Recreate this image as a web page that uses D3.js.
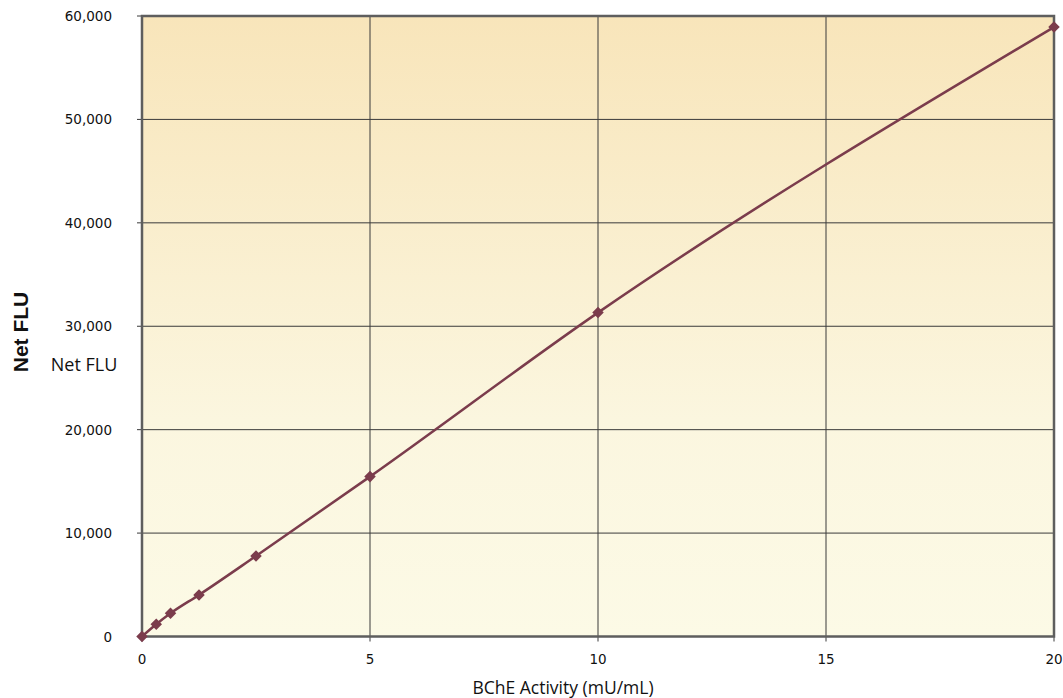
<!DOCTYPE html>
<html>
<head>
<meta charset="utf-8">
<script src="https://cdn.jsdelivr.net/npm/d3@7"></script>
<style>
  body { margin: 0; background: #ffffff; }
</style>
</head>
<body>
<div id="container"></div>
<script>
// data
let activity = [0, 0.3125, 0.625, 1.25, 2.5, 5, 10, 20];
let netFlu = [0, 1180, 2240, 4020, 7780, 15460, 31320, 58930];
let xTicks = [0, 5, 10, 15, 20];
let yTicks = [0, 10000, 20000, 30000, 40000, 50000, 60000];

let w = 1063;
let h = 698;

let viz = d3.select("#container")
  .append("svg")
    .attr("width", w)
    .attr("height", h)
    .style("background-color", "white")
;

let plotLeft = 142, plotRight = 1054, plotTop = 16, plotBottom = 636.5;

let xScale = d3.scaleLinear().domain([0, 20]).range([plotLeft, plotRight]);
let yScale = d3.scaleLinear().domain([0, 60000]).range([plotBottom, plotTop]);

// background gradient
let defs = viz.append("defs");
let grad = defs.append("linearGradient")
    .attr("id", "bg")
    .attr("x1", 0).attr("y1", 0).attr("x2", 0).attr("y2", 1);
grad.append("stop").attr("offset", "0%").attr("stop-color", "#f8e5ba");
grad.append("stop").attr("offset", "65%").attr("stop-color", "#fbf6df");
grad.append("stop").attr("offset", "100%").attr("stop-color", "#fcfae6");

viz.append("rect")
    .attr("x", plotLeft)
    .attr("y", plotTop)
    .attr("width", plotRight - plotLeft)
    .attr("height", plotBottom - plotTop)
    .attr("fill", "url(#bg)");

// grid
let grid = viz.append("g").attr("class", "grid");
grid.selectAll(".hline").data(yTicks).enter()
  .append("line")
    .attr("x1", plotLeft - 5)
    .attr("x2", plotRight)
    .attr("y1", d => yScale(d))
    .attr("y2", d => yScale(d))
    .attr("stroke", "#3a3a3a")
    .attr("stroke-width", 1);
grid.selectAll(".vline").data(xTicks).enter()
  .append("line")
    .attr("x1", d => xScale(d))
    .attr("x2", d => xScale(d))
    .attr("y1", plotTop)
    .attr("y2", plotBottom + 5)
    .attr("stroke", "#3a3a3a")
    .attr("stroke-width", 1);

// frame
viz.append("rect")
    .attr("x", plotLeft)
    .attr("y", plotTop)
    .attr("width", plotRight - plotLeft)
    .attr("height", plotBottom - plotTop)
    .attr("fill", "none")
    .attr("stroke", "#5e5e5e")
    .attr("stroke-width", 2.5);

// tick labels
viz.selectAll(".ylab").data(yTicks).enter()
  .append("text")
    .attr("x", 112)
    .attr("y", d => yScale(d) + 5)
    .attr("text-anchor", "end")
    .attr("font-family", "DejaVu Sans, Verdana, sans-serif")
    .attr("font-size", 13.5)
    .attr("fill", "#111")
    .text(d => d3.format(",")(d));

viz.selectAll(".xlab").data(xTicks).enter()
  .append("text")
    .attr("x", d => xScale(d))
    .attr("y", 664)
    .attr("text-anchor", "middle")
    .attr("font-family", "DejaVu Sans, Verdana, sans-serif")
    .attr("font-size", 13.5)
    .attr("fill", "#111")
    .text(d => d);

// axis titles
viz.append("text")
    .attr("x", 563)
    .attr("y", 694)
    .attr("text-anchor", "middle")
    .attr("font-family", "Open Sans, sans-serif")
    .attr("font-size", 17.5)
    .attr("fill", "#111")
    .text("BChE Activity (mU/mL)");

viz.append("text")
    .attr("x", 84)
    .attr("y", 371)
    .attr("text-anchor", "middle")
    .attr("font-family", "Open Sans, sans-serif")
    .attr("font-size", 18)
    .attr("fill", "#111")
    .text("Net FLU");

viz.append("text")
    .attr("transform", "translate(28,332) rotate(-90)")
    .attr("text-anchor", "middle")
    .attr("font-family", "Liberation Sans, Arial, sans-serif")
    .attr("font-weight", "bold")
    .attr("font-size", 21)
    .attr("fill", "#111")
    .text("Net FLU");

// series
let points = activity.map((a, i) => ({x: a, y: netFlu[i]}));

let line = d3.line()
    .x(d => xScale(d.x))
    .y(d => yScale(d.y))
    .curve(d3.curveMonotoneX);

viz.append("path")
    .datum(points)
    .attr("d", line)
    .attr("fill", "none")
    .attr("stroke", "#7b3c4c")
    .attr("stroke-width", 2.5);

let diamond = d3.symbol().type(d3.symbolDiamond2).size(85);
viz.selectAll(".pt").data(points).enter()
  .append("path")
    .attr("d", diamond)
    .attr("transform", d => "translate(" + xScale(d.x) + "," + yScale(d.y) + ")")
    .attr("fill", "#7b3c4c");
</script>
</body>
</html>
